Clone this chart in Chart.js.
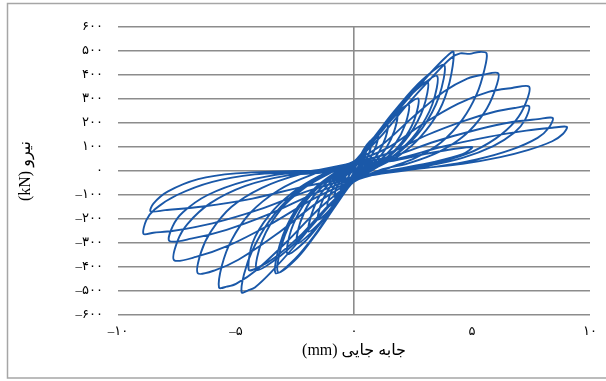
<!DOCTYPE html>
<html>
<head>
<meta charset="utf-8">
<script src="https://cdn.jsdelivr.net/npm/chart.js@4.4.1/dist/chart.umd.min.js"></script>
<style>
  html, body { margin: 0; padding: 0; background: #fff; }
  canvas { display: block; }
</style>
</head>
<body>
<canvas id="c" width="606" height="381"></canvas>
<script>
// Tick values and labels (Persian digits)
const xTickValues = [-10, -5, 0, 5, 10];
const xTickLabels = ['–۱۰', '–۵', '۰', '۵', '۱۰'];
const yTickValues = [-600, -500, -400, -300, -200, -100, 0, 100, 200, 300, 400, 500, 600];
const yTickLabels = ['–۶۰۰', '–۵۰۰', '–۴۰۰', '–۳۰۰', '–۲۰۰', '–۱۰۰', '۰', '۱۰۰', '۲۰۰', '۳۰۰', '۴۰۰', '۵۰۰', '۶۰۰'];
const xTitle = '(mm) جابه جایی';
const yTitle = '(kN) نیرو';

// Hysteresis cycles: [displacement mm, force kN]
const loop01 = [[0,0],[0.08,22],[0.16,40],[0.3,55],[0.24,30],[0.12,10],[0,-4],[-0.1,-22],[-0.2,-38],[-0.3,-46],[-0.24,-24],[-0.12,-6],[0,4]];
const loop02 = [[0.13,32],[0.26,58],[0.39,78],[0.52,92],[0.46,58],[0.34,28],[0.18,8],[0,-8],[-0.14,-30],[-0.28,-54],[-0.42,-70],[-0.56,-78],[-0.5,-48],[-0.36,-22],[-0.18,-6],[0,10]];
const loop03 = [[0.18,44],[0.37,82],[0.55,110],[0.74,128],[0.68,86],[0.5,42],[0.26,10],[0,-14],[-0.2,-42],[-0.41,-74],[-0.62,-96],[-0.82,-108],[-0.74,-70],[-0.54,-34],[-0.28,-6],[0,14]];
const loop04 = [[0.25,50],[0.51,98],[0.76,132],[1.02,155],[0.94,106],[0.7,56],[0.38,12],[0,-18],[-0.28,-56],[-0.56,-104],[-0.84,-132],[-1.12,-148],[-1.02,-100],[-0.76,-50],[-0.4,-10],[0,18]];
const loop05 = [[0.35,62],[0.72,120],[1.08,165],[1.42,192],[1.34,140],[1.06,80],[0.72,36],[0.36,8],[0,-24],[-0.38,-70],[-0.76,-126],[-1.14,-174],[-1.52,-202],[-1.42,-145],[-1.12,-82],[-0.76,-36],[-0.38,-6],[0,22]];
const loop06 = [[0.45,80],[0.92,145],[1.38,198],[1.82,232],[1.7,165],[1.36,95],[0.92,42],[0.46,10],[0,-28],[-0.48,-88],[-0.96,-158],[-1.44,-215],[-1.92,-252],[-1.8,-180],[-1.44,-100],[-0.96,-44],[-0.48,-8],[0,26]];
const loop07 = [[0.58,96],[1.16,172],[1.74,236],[2.32,276],[2.18,196],[1.74,112],[1.16,50],[0.58,10],[0,-32],[-0.6,-106],[-1.2,-188],[-1.82,-258],[-2.42,-302],[-2.28,-215],[-1.82,-120],[-1.2,-52],[-0.6,-8],[0,30]];
const loop08 = [[0.68,106],[1.36,188],[2.04,258],[2.72,302],[2.56,214],[2.04,122],[1.36,54],[0.68,12],[0,-36],[-0.7,-120],[-1.4,-215],[-2.1,-296],[-2.82,-346],[-2.66,-245],[-2.1,-135],[-1.4,-58],[-0.7,-8],[0,32]];
const loop09 = [[0.78,130],[1.56,232],[2.34,318],[3.12,372],[2.94,262],[2.34,150],[1.56,66],[0.78,14],[0,-40],[-0.8,-148],[-1.6,-262],[-2.4,-362],[-3.22,-422],[-3.04,-300],[-2.4,-164],[-1.6,-70],[-0.8,-10],[0,36]];
const loop10 = [[0.88,138],[1.76,246],[2.64,338],[3.52,396],[3.32,278],[2.64,158],[1.76,70],[0.88,14],[0,-42],[-0.84,-150],[-1.66,-266],[-2.5,-366],[-3.32,-426],[-3.14,-305],[-2.5,-166],[-1.66,-72],[-0.84,-10],[0,38]];
const loop11 = [[0.96,155],[1.92,275],[2.88,378],[3.82,442],[3.6,310],[2.88,176],[1.92,78],[0.96,16],[0,-44],[-1.04,-145],[-2.06,-258],[-3.1,-352],[-4.12,-412],[-3.9,-292],[-3.1,-160],[-2.06,-68],[-1.04,-10],[0,40]];
const loop12 = [[1.05,150],[2.1,280],[3.16,400],[3.9,475],[4.22,496],[4.05,370],[3.6,250],[2.8,140],[1.9,64],[0.95,14],[0,-45],[-1.1,-145],[-2.2,-262],[-3.35,-360],[-4.1,-404],[-4.46,-412],[-4.3,-300],[-3.6,-185],[-2.6,-90],[-1.5,-22],[0,40]];
const loop13 = [[1.1,140],[2.2,270],[3.3,390],[4.1,470],[4.5,490],[4.9,488],[5.3,496],[5.62,490],[5.52,420],[5.2,320],[4.6,215],[3.7,120],[2.6,55],[1.4,10],[0,-45],[-1.2,-160],[-2.4,-300],[-3.5,-420],[-4.2,-485],[-4.5,-498],[-4.76,-506],[-4.66,-430],[-4.3,-330],[-3.6,-210],[-2.6,-100],[-1.4,-20],[0,40]];
const loop14 = [[1.2,110],[2.5,225],[3.8,330],[4.8,385],[5.5,402],[6.12,406],[5.95,330],[5.5,240],[4.7,150],[3.6,80],[2.3,32],[1.1,4],[0,-45],[-1.4,-150],[-2.8,-290],[-4.1,-410],[-5.0,-470],[-5.4,-482],[-5.72,-486],[-5.6,-395],[-5.2,-290],[-4.4,-175],[-3.2,-80],[-1.8,-16],[0,38]];
const loop15 = [[1.4,95],[2.9,195],[4.4,280],[5.7,330],[6.7,346],[7.42,352],[7.28,284],[6.85,210],[6.0,135],[4.8,72],[3.3,30],[1.7,4],[0,-42],[-1.6,-135],[-3.3,-265],[-4.9,-370],[-5.9,-414],[-6.62,-426],[-6.48,-338],[-6.05,-250],[-5.2,-150],[-3.9,-70],[-2.3,-14],[0,35]];
const loop16 = [[1.5,75],[3.1,150],[4.7,210],[6.0,248],[6.9,264],[7.42,270],[7.24,212],[6.8,160],[5.9,104],[4.6,55],[3.1,22],[1.6,2],[0,-40],[-1.7,-115],[-3.6,-225],[-5.3,-310],[-6.7,-358],[-7.62,-372],[-7.48,-292],[-7.05,-220],[-6.1,-135],[-4.6,-62],[-2.8,-18],[-1.2,-4],[0,32]];
const loop17 = [[1.6,60],[3.4,122],[5.2,172],[6.7,204],[7.8,216],[8.42,221],[8.24,178],[7.78,138],[6.7,90],[5.2,48],[3.5,18],[1.8,2],[0,-35],[-1.7,-95],[-3.6,-180],[-5.4,-245],[-6.9,-282],[-7.82,-292],[-7.68,-230],[-7.25,-172],[-6.2,-100],[-4.6,-42],[-2.8,-10],[-1.2,-2],[0,28]];
const loop18 = [[1.7,48],[3.7,100],[5.7,142],[7.3,168],[8.4,180],[9.02,184],[8.85,154],[8.4,124],[7.4,88],[6.2,58],[4.6,30],[2.6,8],[0,-30],[-1.9,-82],[-4.0,-160],[-6.0,-218],[-7.7,-250],[-8.5,-257],[-8.92,-262],[-8.8,-205],[-8.45,-160],[-7.5,-100],[-6.0,-45],[-4.2,-14],[-2.2,-4],[0,25]];
const loop19 = [[1.5,40],[3.4,78],[5.0,100],[4.6,70],[3.4,38],[1.8,8],[0,-25],[-2.1,-64],[-4.3,-115],[-6.4,-148],[-8.0,-163],[-8.62,-168],[-8.5,-136],[-7.9,-86],[-6.6,-34],[-5.0,-10],[-2.5,0],[0,2]];

const cycles = [loop01, loop02, loop03, loop04, loop05, loop06, loop07, loop08, loop09, loop10,
                loop11, loop12, loop13, loop14, loop15, loop16, loop17, loop18, loop19];
const points = [];
cycles.forEach(c => c.forEach(p => points.push({x: p[0], y: p[1]})));

const fontFam = "'Liberation Serif', 'DejaVu Sans', serif";

const frame = {
  id: 'frame',
  beforeDraw(chart) {
    const ctx = chart.ctx;
    ctx.save();
    ctx.strokeStyle = '#a6a6a6';
    ctx.lineWidth = 1.5;
    ctx.beginPath();
    ctx.moveTo(612, 3.5);
    ctx.lineTo(7.5, 3.5);
    ctx.lineTo(7.5, 378);
    ctx.lineTo(612, 378);
    ctx.stroke();
    ctx.restore();
  }
};

new Chart(document.getElementById('c'), {
  type: 'scatter',
  data: {
    datasets: [{
      data: points,
      showLine: true,
      borderColor: '#1a58a8',
      borderWidth: 1.9,
      pointRadius: 0,
      fill: false,
      tension: 0.3
    }]
  },
  options: {
    responsive: false,
    animation: false,
    layout: { padding: { left: 8, right: 16, top: 27, bottom: 0 } },
    plugins: { legend: { display: false }, tooltip: { enabled: false } },
    scales: {
      x: {
        type: 'linear', min: -10, max: 10,
        afterBuildTicks: s => { s.ticks = xTickValues.map(v => ({ value: v })); },
        afterFit: s => { s.height = 66; },
        ticks: {
          callback: v => xTickLabels[xTickValues.indexOf(v)],
          font: { family: fontFam, size: 13 }, color: '#000', padding: 9, maxRotation: 0, autoSkip: false
        },
        grid: { color: c => (c.tick && c.tick.value === 0) ? '#8c8c8c' : 'rgba(0,0,0,0)', lineWidth: 1.6, drawTicks: false },
        border: { display: false },
        title: { display: true, text: xTitle, color: '#000', font: { family: fontFam, size: 16 }, padding: { top: 0, bottom: 21 } }
      },
      y: {
        type: 'linear', min: -600, max: 600,
        afterBuildTicks: s => { s.ticks = yTickValues.map(v => ({ value: v })); },
        afterFit: s => { s.width = 110; },
        ticks: {
          callback: v => yTickLabels[yTickValues.indexOf(v)],
          font: { family: fontFam, size: 13 }, color: '#000', padding: 15, autoSkip: false
        },
        grid: { color: '#8c8c8c', lineWidth: 1.6, drawTicks: false },
        border: { display: false },
        title: { display: true, text: yTitle, color: '#000', font: { family: fontFam, size: 16 }, padding: { top: 8, bottom: 0 } }
      }
    }
  },
  plugins: [frame]
});
</script>
</body>
</html>
